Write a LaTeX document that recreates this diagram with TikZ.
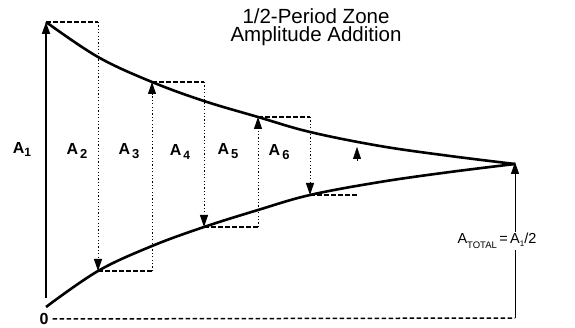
\documentclass[tikz,border=0pt]{standalone}
\usepackage{fontspec}
\setmainfont{Liberation Sans}
\usetikzlibrary{arrows.meta}
\begin{document}
\begin{tikzpicture}[x=1pt,y=-1pt,
  curve/.style={line width=2.6pt},
  hdash/.style={line width=1.5pt,dash pattern=on 4.5pt off 2.5pt},
  vdot/.style={line width=0.9pt,dash pattern=on 1.2pt off 2.2pt},
  arr/.style={-{Triangle[length=12pt,width=8pt]}},
  lab/.style={font=\fontsize{16}{16}\selectfont\bfseries,inner sep=0pt},
  ttl/.style={font=\fontsize{20.5}{18.5}\selectfont,align=center,inner sep=0pt}]
\useasboundingbox (0,0) rectangle (575,328);
% key points
\coordinate (T0) at (46,22);
\coordinate (T1) at (98,57);
\coordinate (T2) at (152,82);
\coordinate (T3) at (204,101);
\coordinate (T4) at (258,117);
\coordinate (T5) at (310,132);
\coordinate (B0) at (46,307);
\coordinate (B1) at (98,271);
\coordinate (B2) at (152,246);
\coordinate (B3) at (204,227);
\coordinate (B4) at (258,210);
\coordinate (B5) at (310,195);
\coordinate (Tip) at (515,164);
% curves
\draw[curve] plot[smooth,tension=0.6] coordinates {(46,22) (98,57) (152,82) (204,101) (258,117) (310,132) (380,146) (450,156) (515,164)};
\draw[curve] plot[smooth,tension=0.6] coordinates {(46,307) (98,271) (152,246) (204,227) (258,210) (310,195) (380,182) (450,172) (515,164)};
% A1
\coordinate (A1b) at (46,298);
\draw[line width=1.8pt,arr] (A1b) -- (T0);
% steps
\coordinate (H1) at (98,22);
\draw[hdash] (T0) -- (H1);
\draw[vdot,arr] (H1) -- (B1);
\coordinate (H2) at (152,271);
\draw[hdash] (B1) -- (H2);
\draw[vdot,arr] (H2) -- (T2);
\coordinate (H3) at (204,82);
\draw[hdash] (T2) -- (H3);
\draw[vdot,arr] (H3) -- (B3);
\coordinate (H4) at (258,227);
\draw[hdash] (B3) -- (H4);
\draw[vdot,arr] (H4) -- (T4);
\coordinate (H5) at (310,117);
\draw[hdash] (T4) -- (H5);
\draw[vdot,arr] (H5) -- (B5);
\coordinate (H6) at (357,195);
\draw[hdash] (B5) -- (H6);
\coordinate (S0) at (357,161);
\coordinate (S1) at (357,147);
\draw[arr] (S0) -- (S1);
% bottom baseline
\node[lab] (zero) at (44,319) {0};
\coordinate (Rb) at (515,318);
\draw[hdash] (zero.east) ++(4,0) coordinate (Z1) (Z1) -- (Rb);
\draw[line width=1pt,arr] (Rb) -- ([yshift=2pt]Tip);
\node[fill=white,inner sep=1pt,font=\fontsize{14.5}{14}\selectfont] (tot) at (497,241)
  {A\raisebox{-4.5pt}{\fontsize{9.5}{9}\selectfont TOTAL}\,=\,A\raisebox{-3pt}{\fontsize{8}{8}\selectfont 1}/2};
% labels
\node[lab] (a1) at (22,149) {A\raisebox{-3pt}{\fontsize{12}{12}\selectfont 1}};
\node[lab] (a2) at (77,151) {A\raisebox{-4pt}{\fontsize{13}{13}\selectfont\,2}};
\node[lab] (a3) at (129,151) {A\raisebox{-4pt}{\fontsize{13}{13}\selectfont\,3}};
\node[lab] (a4) at (180,152) {A\raisebox{-4pt}{\fontsize{12}{12}\selectfont\,4}};
\node[lab] (a5) at (228,151) {A\raisebox{-4pt}{\fontsize{13}{13}\selectfont\,5}};
\node[lab] (a6) at (279,152) {A\raisebox{-4pt}{\fontsize{13}{13}\selectfont\,6}};
% title
\node[ttl] (title) at (316,27) {1/2-Period Zone\\Amplitude Addition};
\end{tikzpicture}
\end{document}
